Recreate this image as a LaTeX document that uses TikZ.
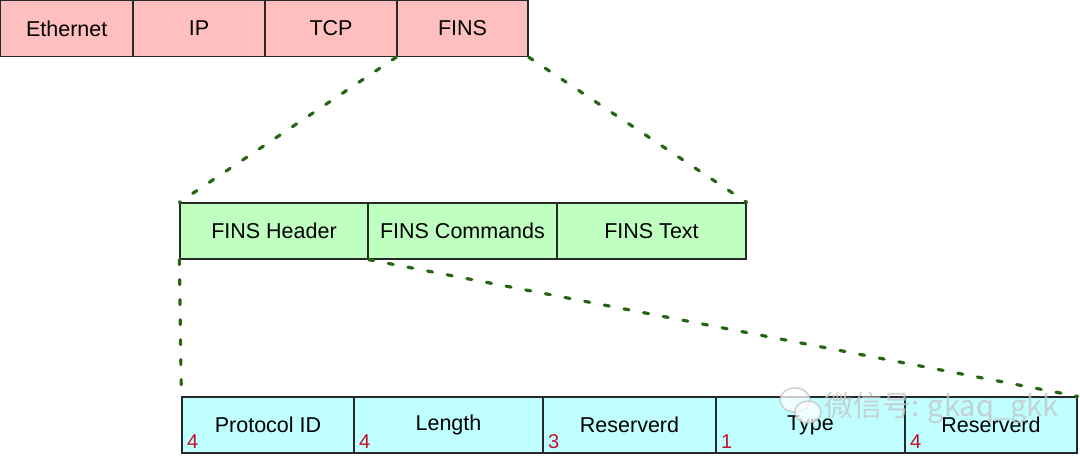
\documentclass[tikz,border=0pt]{standalone}
\usepackage{fontspec}
\setmainfont{Liberation Sans}
\newfontfamily\cjkfont{Noto Sans CJK SC}
\definecolor{pinkfill}{RGB}{255,191,191}
\definecolor{greenfill}{RGB}{191,255,191}
\definecolor{cyanfill}{RGB}{191,255,255}
\definecolor{dashgreen}{RGB}{38,102,18}
\definecolor{numred}{RGB}{196,16,40}
\definecolor{edgegray}{RGB}{40,40,40}
\begin{document}
\begin{tikzpicture}[x=1pt,y=-1pt,
  cell/.style={draw=edgegray, line width=1.3pt, rectangle, inner sep=0pt,
    minimum height=56pt, font=\fontsize{21.5}{24}\selectfont},
  pinkcell/.style={cell, fill=pinkfill},
  greencell/.style={cell, fill=greenfill},
  cyancell/.style={cell, fill=cyanfill},
  num/.style={text=numred, inner sep=0pt, anchor=base west, font=\fontsize{20}{22}\selectfont},
  conn/.style={draw=dashgreen, line width=3.2pt, line cap=round, dash pattern=on 5pt off 15pt},
  wm/.style={text=gray!45, opacity=0.8, inner sep=0pt, font=\cjkfont\fontsize{29}{32}\selectfont}
]
\useasboundingbox (0,0) rectangle (1080,461);
% top row
\node[pinkcell, minimum width=132.5pt] (eth) at (66.75,28.5) {Ethernet};
\node[pinkcell, minimum width=132pt] (ip) at (199,28.5) {IP};
\node[pinkcell, minimum width=132pt] (tcp) at (331,28.5) {TCP};
\node[pinkcell, minimum width=131pt] (fins) at (462.5,28.5) {FINS};
% middle row
\node[greencell, minimum width=188pt] (hdr) at (274,231) {FINS Header};
\node[greencell, minimum width=189pt] (cmd) at (462.5,231) {FINS Commands};
\node[greencell, minimum width=189pt] (txt) at (651.5,231) {FINS Text};
% bottom row
\node[cyancell, minimum width=172pt] (pid) at (268,425) {Protocol ID};
\node[cyancell, minimum width=189pt] (len) at (448.5,425) {Length};
\node[cyancell, minimum width=173pt] (res1) at (629.5,425) {\raisebox{-2pt}{Reserverd}};
\node[cyancell, minimum width=189pt] (typ) at (810.5,425) {\raisebox{-2pt}{Type}};
\node[cyancell, minimum width=172pt] (res2) at (991,425) {\raisebox{-2pt}{Reserverd}};
% byte counts
\node[num] (n1) at ([xshift=5.5pt,yshift=5pt]pid.south west) {4};
\node[num] (n2) at ([xshift=5.5pt,yshift=5pt]len.south west) {4};
\node[num] (n3) at ([xshift=5.5pt,yshift=5pt]res1.south west) {3};
\node[num] (n4) at ([xshift=5.5pt,yshift=5pt]typ.south west) {1};
\node[num] (n5) at ([xshift=5.5pt,yshift=5pt]res2.south west) {4};
% dashed expansion lines
\draw[conn] (fins.south west) -- (hdr.north west);
\draw[conn] (fins.south east) -- (txt.north east);
\draw[conn] (hdr.south west) -- (pid.north west);
\draw[conn] (hdr.south east) -- (res2.north east);
% watermark
\begin{scope}[opacity=0.75]
\draw[gray!50, line width=1.5pt, fill=white] (795,400) ellipse [x radius=15pt, y radius=12pt];
\draw[gray!50, line width=1.5pt, fill=white] (808,412) ellipse [x radius=13pt, y radius=11pt];
\end{scope}
\node[wm, anchor=west] (wmtext) at (824,408) {微信号: gkaq\_gkk};
\end{tikzpicture}
\end{document}
